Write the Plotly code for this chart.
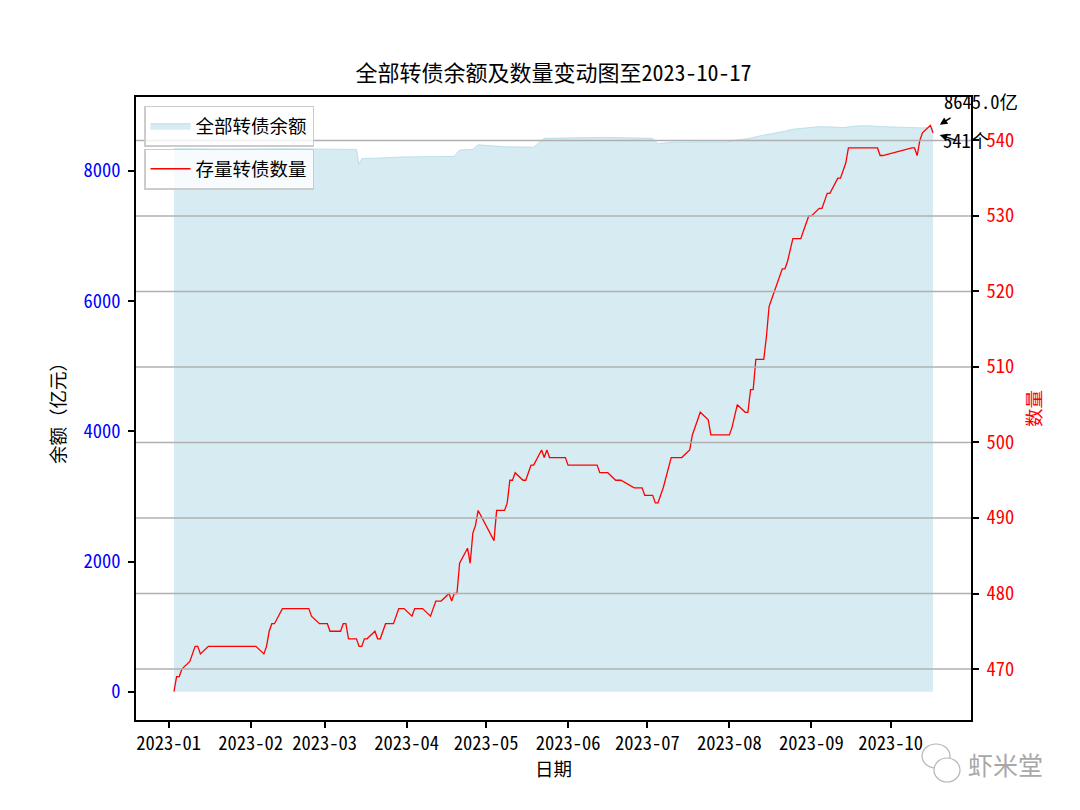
import pandas as pd
import plotly.graph_objects as go

# ---------------- data ----------------
count_dates = [
    "2023-01-03", "2023-01-04", "2023-01-05", "2023-01-06", "2023-01-09", "2023-01-10", "2023-01-11", "2023-01-12", "2023-01-13", "2023-01-16",
    "2023-02-03", "2023-02-06", "2023-02-07", "2023-02-08", "2023-02-09", "2023-02-10", "2023-02-13",
    "2023-02-23", "2023-02-24", "2023-02-27", "2023-03-02", "2023-03-03", "2023-03-07", "2023-03-08", "2023-03-09", "2023-03-10",
    "2023-03-13", "2023-03-14", "2023-03-15", "2023-03-16", "2023-03-17", "2023-03-20", "2023-03-21", "2023-03-22", "2023-03-23", "2023-03-24",
    "2023-03-27", "2023-03-28", "2023-03-29", "2023-03-31", "2023-04-03", "2023-04-04", "2023-04-07", "2023-04-10", "2023-04-12", "2023-04-14",
    "2023-04-17", "2023-04-18", "2023-04-19", "2023-04-20", "2023-04-21", "2023-04-24", "2023-04-25", "2023-04-26", "2023-04-27", "2023-04-28",
    "2023-05-04", "2023-05-05", "2023-05-08", "2023-05-09", "2023-05-10", "2023-05-11", "2023-05-12", "2023-05-15", "2023-05-16", "2023-05-17",
    "2023-05-18", "2023-05-19", "2023-05-22", "2023-05-23", "2023-05-24", "2023-05-25", "2023-05-31", "2023-06-01", "2023-06-12", "2023-06-13",
    "2023-06-16", "2023-06-19", "2023-06-21", "2023-06-26", "2023-06-29", "2023-06-30", "2023-07-03", "2023-07-04", "2023-07-05", "2023-07-06",
    "2023-07-07", "2023-07-10", "2023-07-14", "2023-07-17", "2023-07-18", "2023-07-21", "2023-07-24", "2023-07-25", "2023-08-01", "2023-08-02",
    "2023-08-04", "2023-08-07", "2023-08-08", "2023-08-09", "2023-08-10", "2023-08-11", "2023-08-14", "2023-08-15", "2023-08-16", "2023-08-17",
    "2023-08-18", "2023-08-21", "2023-08-22", "2023-08-23", "2023-08-25", "2023-08-28", "2023-08-29", "2023-08-30", "2023-08-31", "2023-09-01",
    "2023-09-04", "2023-09-05", "2023-09-07", "2023-09-08", "2023-09-11", "2023-09-12", "2023-09-14", "2023-09-15", "2023-09-26", "2023-09-27",
    "2023-09-28", "2023-10-09", "2023-10-10", "2023-10-11", "2023-10-12", "2023-10-13", "2023-10-16", "2023-10-17",
]
count_values = [
    467, 469, 469, 470, 471, 472, 473, 473, 472, 473,
    473, 472, 473, 475, 476, 476, 478,
    478, 477, 476, 476, 475, 475, 476, 476, 474,
    474, 473, 473, 474, 474, 475, 474, 474, 475, 476,
    476, 477, 478, 478, 477, 478, 478, 477, 479, 479,
    480, 479, 480, 480, 484, 486, 484, 488, 489, 491,
    487, 491, 491, 492, 495, 495, 496, 495, 495, 496,
    497, 497, 499, 498, 499, 498, 498, 497, 497, 496,
    496, 495, 495, 494, 494, 493, 493, 492, 492, 493,
    494, 498, 498, 499, 501, 504, 503, 501, 501, 502,
    505, 504, 504, 507, 507, 511, 511, 514, 518, 519,
    520, 523, 523, 524, 527, 527, 528, 529, 530, 530,
    531, 531, 533, 533, 535, 535, 537, 539, 539, 538,
    538, 539, 539, 538, 540, 541, 542, 541,
]

balance_dates = [
    "2023-01-03", "2023-01-20", "2023-02-15", "2023-03-13", "2023-03-14", "2023-03-15", "2023-03-20",
    "2023-03-31", "2023-04-14", "2023-04-19", "2023-04-21", "2023-04-26", "2023-04-28", "2023-05-08",
    "2023-05-19", "2023-05-23", "2023-06-15", "2023-06-30", "2023-07-03", "2023-07-05", "2023-07-10",
    "2023-07-20", "2023-07-31", "2023-08-03", "2023-08-08", "2023-08-14", "2023-08-18", "2023-08-22",
    "2023-08-25", "2023-08-30", "2023-09-04", "2023-09-08", "2023-09-13", "2023-09-18", "2023-09-22",
    "2023-09-28", "2023-10-10", "2023-10-13", "2023-10-16", "2023-10-17",
]
balance_values = [
    8340, 8335, 8340, 8330, 8100, 8190, 8195,
    8215, 8220, 8225, 8320, 8330, 8400, 8370,
    8365, 8500, 8515, 8505, 8500, 8415, 8440,
    8445, 8445, 8470, 8495, 8550, 8575, 8610,
    8640, 8660, 8680, 8675, 8665, 8690, 8695,
    8680, 8670, 8660, 8670, 8645,
]

left_ticks = [0, 2000, 4000, 6000, 8000]
right_ticks = [470, 480, 490, 500, 510, 520, 530, 540]
month_ticks = ["2023-01-01", "2023-02-01", "2023-03-01", "2023-04-01", "2023-05-01",
               "2023-06-01", "2023-07-01", "2023-08-01", "2023-09-01", "2023-10-01"]
month_labels = ["2023-01", "2023-02", "2023-03", "2023-04", "2023-05",
                "2023-06", "2023-07", "2023-08", "2023-09", "2023-10"]

title_text = "全部转债余额及数量变动图至2023-10-17"
balance_name = "全部转债余额"
count_name = "存量转债数量"
last_balance_label = "8645.0亿"
last_count_label = "541个"

FONT = "Noto Sans Mono CJK SC, Noto Sans CJK SC, sans-serif"
FS = 18.5

# ---------------- figure ----------------
d0 = pd.Timestamp(count_dates[0])
d1 = pd.Timestamp(count_dates[-1])
pad = (d1 - d0) * 0.05
x_range = [d0 - pad, d1 + pad]

fig = go.Figure()
fig.add_trace(go.Scatter(
    x=balance_dates, y=balance_values, mode="lines", fill="tozeroy",
    fillcolor="rgba(173,216,230,0.5)", line=dict(color="rgba(173,216,230,0.75)", width=1),
    name=balance_name, legend="legend", yaxis="y", showlegend=True,
))
fig.add_trace(go.Scatter(
    x=count_dates, y=count_values, mode="lines",
    line=dict(color="#ff0000", width=1.3),
    name=count_name, legend="legend2", yaxis="y2", showlegend=True,
))

axis_common = dict(
    showline=True, linecolor="black", linewidth=1.5,
    ticks="outside", ticklen=6, tickwidth=1.5, tickcolor="black",
    showgrid=False, zeroline=False, automargin=False,
)

fig.update_layout(
    width=1080, height=810,
    showlegend=True,
    paper_bgcolor="white", plot_bgcolor="white",
    margin=dict(l=136, r=109, t=97, b=90),
    font=dict(family=FONT, size=FS, color="black"),
    title=dict(text=title_text, x=0.5, xref="paper", y=1 - 73 / 810, yref="container",
               xanchor="center", yanchor="middle", font=dict(size=22, color="black")),
    xaxis=dict(
        range=x_range, type="date", tickvals=month_ticks, ticktext=month_labels,
        mirror=True, tickfont=dict(size=FS, color="black"),
        title=dict(text="日期", standoff=9, font=dict(size=FS)),
        **axis_common,
    ),
    yaxis=dict(
        range=[-432, 9135], tickvals=left_ticks, mirror=True,
        tickfont=dict(size=FS, color="#0000ff"), ticklabelstandoff=4,
        title=dict(text="余额（亿元）", standoff=13, font=dict(size=FS, color="black")),
        **axis_common,
    ),
    yaxis2=dict(
        range=[463.25, 545.75], tickvals=right_ticks, overlaying="y", side="right",
        tickfont=dict(size=FS, color="#ff0000"), ticklabelstandoff=4,
        title=dict(text="数量", standoff=15, font=dict(size=FS, color="#ff0000")),
        **axis_common,
    ),
    legend=dict(
        x=0.0096, y=0.986, xanchor="left", yanchor="top",
        bgcolor="rgba(255,255,255,0.8)", bordercolor="#cccccc", borderwidth=1.5,
        font=dict(size=FS, color="black"), itemwidth=40,
    ),
    legend2=dict(
        x=0.0096, y=0.917, xanchor="left", yanchor="top",
        bgcolor="rgba(255,255,255,0.8)", bordercolor="#cccccc", borderwidth=1.5,
        font=dict(size=FS, color="black"), itemwidth=40,
    ),
)

# grid lines of the right axis, drawn above the fill (as in the original)
for t in right_ticks:
    fig.add_shape(type="line", xref="x domain", x0=0, x1=1, yref="y2", y0=t, y1=t,
                  line=dict(color="#b0b0b0", width=1.5), layer="above")

# end-of-series annotations
fig.add_annotation(x=count_dates[-1], y=balance_values[-1], xref="x", yref="y",
                   text="", showarrow=True, ax=19, ay=-12, axref="pixel", ayref="pixel",
                   arrowhead=2, arrowsize=1, arrowwidth=1.5, arrowcolor="black", standoff=8)
fig.add_annotation(x=count_dates[-1], y=balance_values[-1], xref="x", yref="y",
                   text=last_balance_label, showarrow=False, xanchor="left", yanchor="middle",
                   xshift=9, yshift=28, font=dict(size=FS, color="black"))
fig.add_annotation(x=count_dates[-1], y=count_values[-1], xref="x", yref="y2",
                   text="", showarrow=True, ax=25, ay=8, axref="pixel", ayref="pixel",
                   arrowhead=2, arrowsize=1, arrowwidth=1.5, arrowcolor="black", standoff=7)
fig.add_annotation(x=count_dates[-1], y=count_values[-1], xref="x", yref="y2",
                   text=last_count_label, showarrow=False, xanchor="left", yanchor="middle",
                   xshift=8, yshift=-7, font=dict(size=FS, color="black"))

# watermark
fig.add_shape(type="circle", xref="paper", yref="paper",
              x0=(922 - 136) / 835, x1=(950 - 136) / 835, y0=(720 - 768) / 623, y1=(720 - 744) / 623,
              line=dict(color="#b5b5b5", width=1.2), fillcolor="white", layer="above")
fig.add_shape(type="circle", xref="paper", yref="paper",
              x0=(934 - 136) / 835, x1=(960 - 136) / 835, y0=(720 - 782) / 623, y1=(720 - 758) / 623,
              line=dict(color="#b5b5b5", width=1.2), fillcolor="white", layer="above")
fig.add_annotation(xref="paper", yref="paper", x=(1005 - 136) / 835, y=(720 - 764) / 623,
                   text="虾米堂", showarrow=False, xanchor="center", yanchor="middle",
                   font=dict(size=25, color="#a8a8a8", family="Noto Sans CJK SC"))

fig.write_html("out.html", config={"displayModeBar": False},
               post_script="document.body.style.margin='0';")
